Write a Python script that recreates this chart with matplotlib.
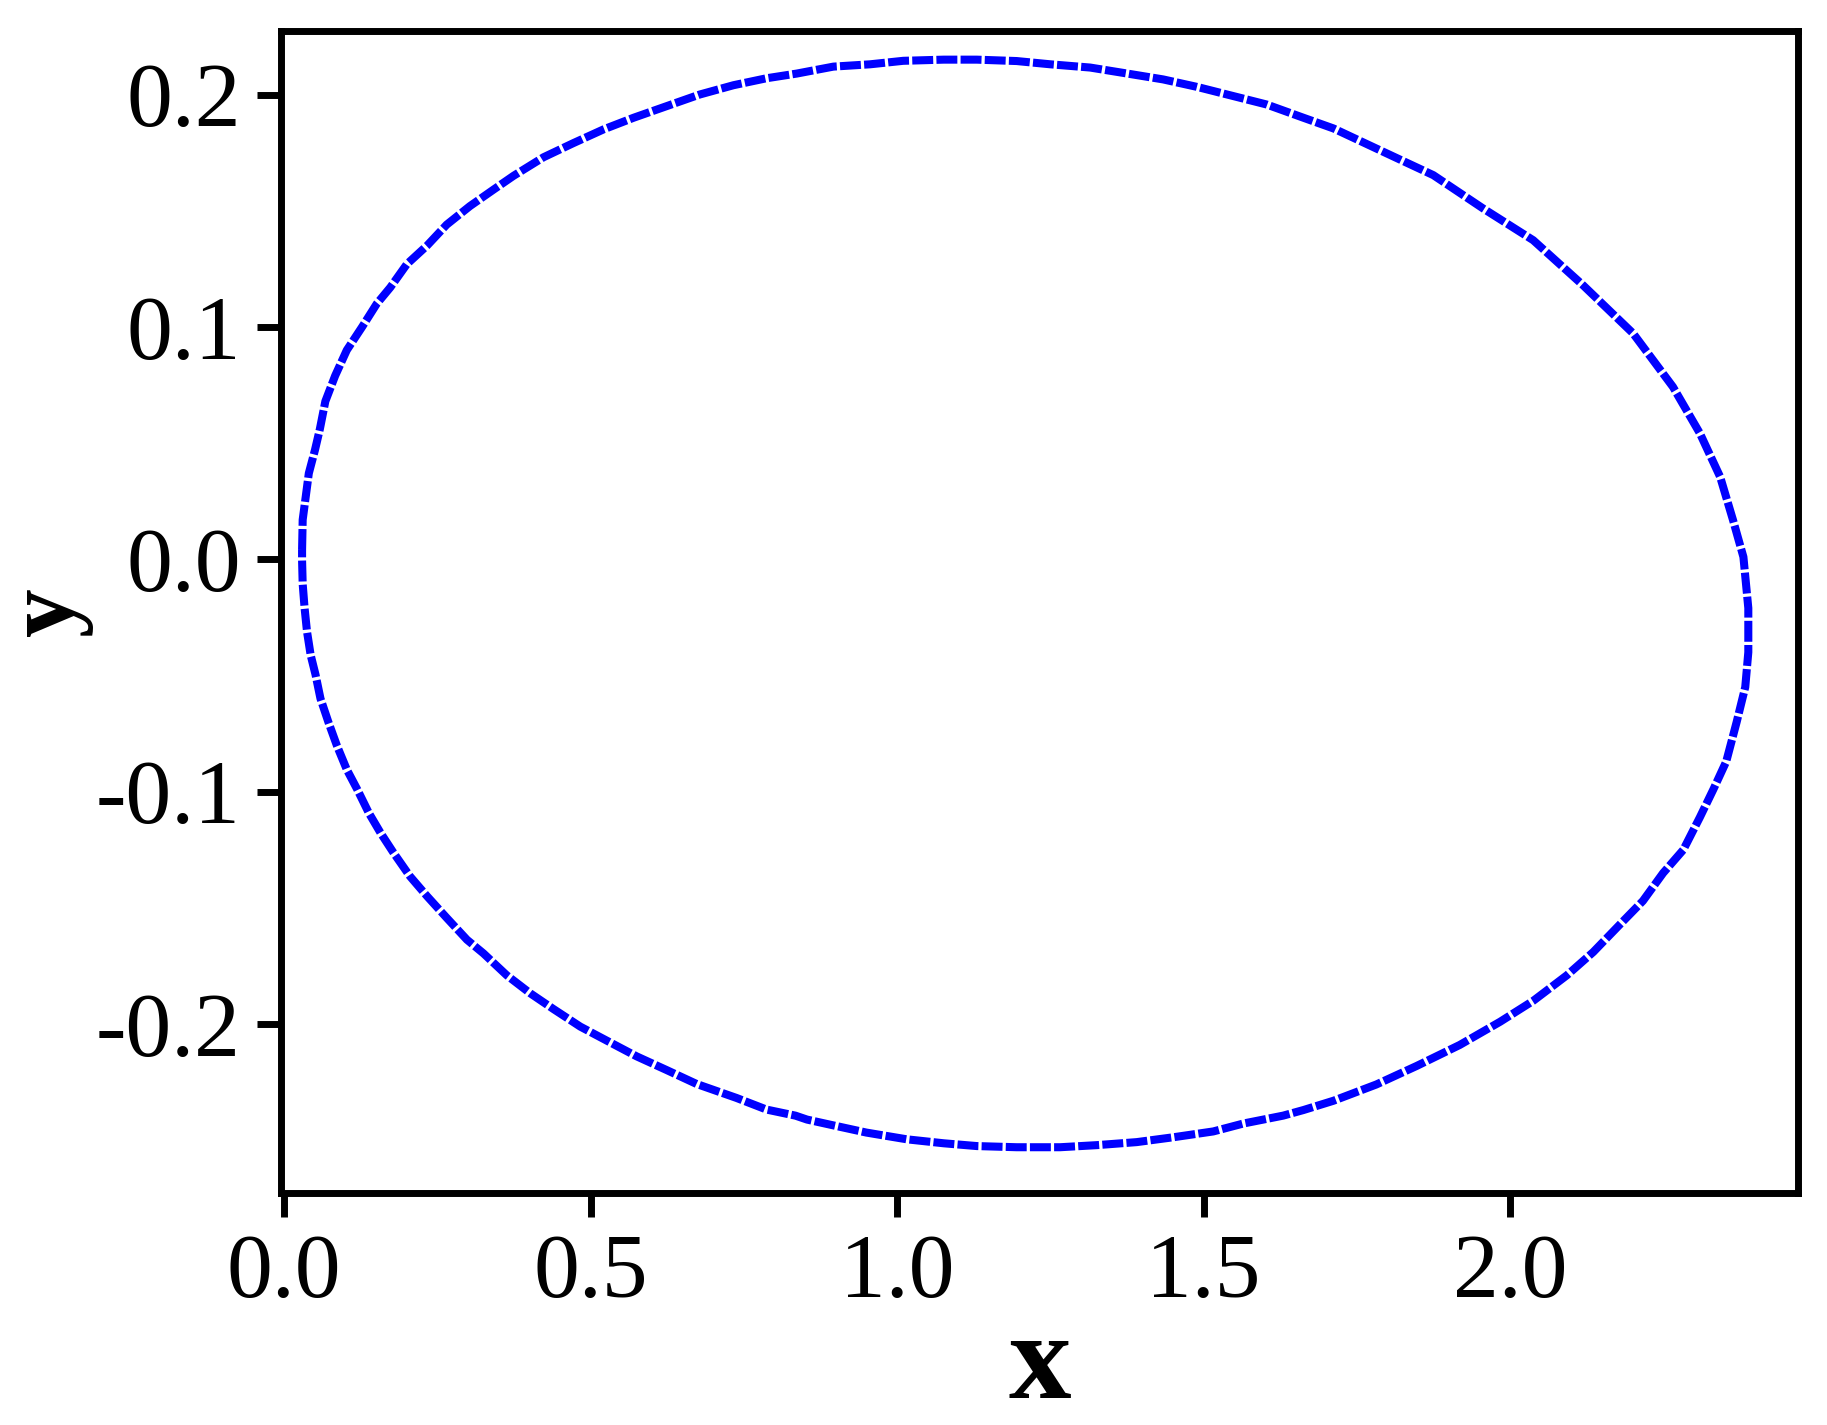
"""Closed orbit in the x-y plane, drawn as a dense blue dotted trace."""

import matplotlib

matplotlib.use("Agg")
import matplotlib.pyplot as plt  # noqa: E402

plt.rcParams["font.family"] = ["Liberation Serif", "DejaVu Serif"]
plt.rcParams["axes.unicode_minus"] = False

# upper branch, left -> right
x_top = [0.029, 0.030, 0.034, 0.040, 0.050, 0.058, 0.067, 0.083, 0.102, 0.127,
         0.151, 0.173, 0.200, 0.233, 0.265, 0.303, 0.341, 0.374, 0.423, 0.471,
         0.521, 0.570, 0.624, 0.678, 0.733, 0.787, 0.836, 0.896, 0.956, 1.010,
         1.076, 1.130, 1.195, 1.250, 1.315, 1.369, 1.434, 1.489, 1.549, 1.603,
         1.663, 1.712, 1.793, 1.875, 1.956, 2.038, 2.119, 2.201, 2.266, 2.310,
         2.343, 2.364, 2.381]
y_top = [0.004, 0.017, 0.025, 0.037, 0.047, 0.056, 0.068, 0.079, 0.090, 0.100,
         0.110, 0.117, 0.127, 0.135, 0.144, 0.152, 0.159, 0.165, 0.173, 0.179,
         0.185, 0.190, 0.195, 0.200, 0.204, 0.207, 0.209, 0.212, 0.213, 0.2145,
         0.215, 0.215, 0.2144, 0.213, 0.2116, 0.2093, 0.2065, 0.2033, 0.1993, 0.1957,
         0.190, 0.1854, 0.1754, 0.1653, 0.151, 0.1373, 0.118, 0.0972, 0.0742, 0.0542,
         0.0355, 0.0169, 0.001]

# lower branch, right -> left
x_bot = [2.389, 2.389, 2.384, 2.370, 2.353, 2.332, 2.310, 2.283, 2.250, 2.217,
         2.180, 2.136, 2.093, 2.038, 1.984, 1.918, 1.848, 1.782, 1.712, 1.663,
         1.630, 1.565, 1.516, 1.451, 1.391, 1.326, 1.266, 1.195, 1.130, 1.076,
         1.016, 0.950, 0.896, 0.853, 0.834, 0.787, 0.738, 0.673, 0.624, 0.575,
         0.526, 0.483, 0.439, 0.401, 0.363, 0.325, 0.298, 0.265, 0.233, 0.205,
         0.178, 0.157, 0.138, 0.119, 0.102, 0.086, 0.072, 0.059, 0.051, 0.043,
         0.037, 0.033, 0.030, 0.029]
y_bot = [-0.021, -0.040, -0.055, -0.070, -0.087, -0.099, -0.111, -0.125, -0.135, -0.147,
         -0.157, -0.169, -0.179, -0.190, -0.199, -0.209, -0.218, -0.226, -0.233, -0.237,
         -0.2394, -0.2428, -0.2462, -0.2487, -0.2508, -0.2521, -0.253, -0.253, -0.2525, -0.2513,
         -0.2496, -0.2467, -0.2436, -0.2411, -0.2394, -0.2368, -0.2318, -0.2258, -0.2198, -0.2139,
         -0.2071, -0.2011, -0.1935, -0.1867, -0.179, -0.1696, -0.1637, -0.1543, -0.145, -0.1364,
         -0.1262, -0.1177, -0.1092, -0.099, -0.0905, -0.0803, -0.0701, -0.0599, -0.0497, -0.0412,
         -0.031, -0.0207, -0.0106, -0.0004]

x_ticks = [0.0, 0.5, 1.0, 1.5, 2.0]
y_ticks = [-0.2, -0.1, 0.0, 0.1, 0.2]


def main() -> None:
    fig = plt.figure(figsize=(18.27, 14.25), dpi=100)
    ax = fig.add_axes([0.1538, 0.1628, 0.9841 - 0.1538, 0.9782 - 0.1628])

    xs = x_top + x_bot + x_top[:1]
    ys = y_top + y_bot + y_top[:1]
    ax.plot(xs, ys, color="#0000ff", lw=5.8, dashes=(2.6, 0.4),
            dash_capstyle="butt", solid_joinstyle="round")

    ax.set_xlim(-0.0054, 2.470)
    ax.set_ylim(-0.2727, 0.2273)
    ax.set_xticks(x_ticks)
    ax.set_xticklabels([f"{v:.1f}" for v in x_ticks])
    ax.set_yticks(y_ticks)
    ax.set_yticklabels([f"{v:.1f}" for v in y_ticks])

    for s in ax.spines.values():
        s.set_linewidth(5)
    ax.tick_params(direction="out", length=17, width=5, labelsize=66)
    ax.tick_params(axis="x", pad=12)
    ax.tick_params(axis="y", pad=12)

    ax.set_xlabel("x", fontsize=90, fontweight="bold")
    ax.xaxis.set_label_coords(0.5, -0.176)
    ax.xaxis.label.set_verticalalignment("baseline")
    # y label sits right at the left edge, as in the source figure
    ax.set_ylabel("y", fontsize=70, fontweight="bold")
    ax.yaxis.set_label_coords(-0.124, 0.50)

    fig.savefig("out.png", dpi=100)


if __name__ == "__main__":
    main()
